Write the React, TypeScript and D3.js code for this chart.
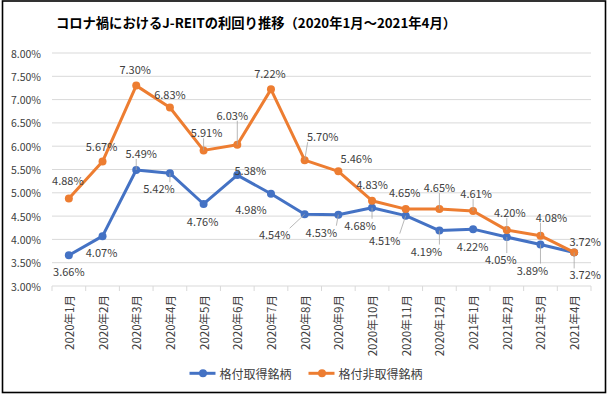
import React from "react";
import * as d3 from "d3";

const title = "コロナ禍におけるJ-REITの利回り推移（2020年1月～2021年4月）";
const categories = [
  "2020年1月", "2020年2月", "2020年3月", "2020年4月", "2020年5月", "2020年6月",
  "2020年7月", "2020年8月", "2020年9月", "2020年10月", "2020年11月", "2020年12月",
  "2021年1月", "2021年2月", "2021年3月", "2021年4月",
];
const seriesNames = ["格付取得銘柄", "格付非取得銘柄"];
const ratedValues = [3.66, 4.07, 5.49, 5.42, 4.76, 5.38, 4.98, 4.54, 4.53, 4.68, 4.51, 4.19, 4.22, 4.05, 3.89, 3.72];
const unratedValues = [4.88, 5.67, 7.30, 6.83, 5.91, 6.03, 7.22, 5.70, 5.46, 4.83, 4.65, 4.65, 4.61, 4.20, 4.08, 3.72];
const yTicks = [3, 3.5, 4, 4.5, 5, 5.5, 6, 6.5, 7, 7.5, 8];

// label placement (dx, dy from point, leader flag) - layout only
const ratedLabelOffsets: [number, number, boolean][] = [
  [0, 15.5, false], [-1, 15.5, false], [5, -17, true], [-11, 15, true],
  [-1, 17, false], [13, -5, false], [-20, 15, false], [-30, 20, true],
  [-17, 17, true], [-12, 17, true], [-21, 24, true], [-13, 20, true],
  [-0.5, 16.5, false], [-6, 22, true], [-8, 25, true], [11, 22, true],
];
const unratedLabelOffsets: [number, number, boolean][] = [
  [-1, -18, false], [-1, -16, false], [-1, -17, false], [0, -13.5, false],
  [3, -18, true], [-5, -30, true], [-1, -16, false], [18, -24, true],
  [18, -13, false], [0, -17, false], [-1, -17, false], [0, -22, true],
  [3, -18, true], [3, -18, true], [11, -19, true], [11, -11, false],
];

const colors = ["#4472C4", "#ED7D31"];
const FONT = "'Noto Sans CJK JP', 'Noto Sans', sans-serif";

export default function App() {
  const W = 608, H = 397;
  const x = d3.scaleBand<string>().domain(categories).range([52, 591]);
  const y = d3.scaleLinear().domain([3, 8]).range([286, 53]);
  const cx = (c: string) => (x(c) as number) + x.bandwidth() / 2;
  const line = d3.line<number>().x((_, i) => cx(categories[i])).y((d) => y(d));

  const series = [
    { name: seriesNames[0], values: ratedValues, offsets: ratedLabelOffsets, color: colors[0] },
    { name: seriesNames[1], values: unratedValues, offsets: unratedLabelOffsets, color: colors[1] },
  ];

  const labelW = 15, labelH = 6;

  return (
    <svg width={W} height={H} style={{ position: "absolute", left: 0, top: 0, background: "#fff" }} fontFamily={FONT}>
      <rect x={0} y={0} width={W} height={H} fill="#fff" />
      <rect x={2.5} y={1} width={603} height={391.5} fill="none" stroke="#000" strokeWidth={1.6} />
      <text x={256} y={22} textAnchor="middle" dominantBaseline="central" fontSize={13.3} fontWeight="bold" fill="#000">{title}</text>
      {yTicks.map((t) => (
        <g key={t}>
          <line x1={52} x2={591} y1={y(t)} y2={y(t)} stroke="#D9D9D9" strokeWidth={1} />
          <text x={41} y={y(t)} textAnchor="end" dominantBaseline="central" fontSize={10.5} fill="#404040">{t.toFixed(2)}%</text>
        </g>
      ))}
      {categories.map((c, i) => (
        <line key={"tk" + i} x1={x(c) as number} x2={x(c) as number} y1={286} y2={291} stroke="#D9D9D9" />
      ))}
      <line x1={591} x2={591} y1={286} y2={291} stroke="#D9D9D9" />
      {categories.map((c) => (
        <text key={c} transform={`translate(${cx(c)},295) rotate(-90)`} textAnchor="end" dominantBaseline="central" fontSize={11.5} fill="#404040">{c}</text>
      ))}
      {series.map((s) => (
        <g key={s.name}>
          <path d={line(s.values) as string} fill="none" stroke={s.color} strokeWidth={3} strokeLinejoin="round" />
          {s.values.map((v, i) => (
            <circle key={i} cx={cx(categories[i])} cy={y(v)} r={4} fill={s.color} />
          ))}
        </g>
      ))}
      {series.map((s) =>
        s.values.map((v, i) => {
          const px = cx(categories[i]);
          const py = y(v);
          const [dx, dy, leader] = s.offsets[i];
          const lx = px + dx, ly = py + dy;
          const ex = Math.max(lx - labelW, Math.min(lx + labelW, px));
          const ey = Math.max(ly - labelH, Math.min(ly + labelH, py));
          return (
            <g key={s.name + i}>
              {leader && <line x1={px} y1={py} x2={ex} y2={ey} stroke="#A6A6A6" strokeWidth={0.8} />}
              <text x={lx} y={ly} textAnchor="middle" dominantBaseline="central" fontSize={11} fill="#404040">{v.toFixed(2)}%</text>
            </g>
          );
        })
      )}
      {series.map((s, k) => {
        const lx0 = k === 0 ? 189.5 : 308.5;
        return (
          <g key={"lg" + k}>
            <line x1={lx0} x2={lx0 + 26} y1={373.3} y2={373.3} stroke={s.color} strokeWidth={3} />
            <circle cx={lx0 + 13.5} cy={373.3} r={4} fill={s.color} />
            <text x={lx0 + 30} y={373.3} dominantBaseline="central" fontSize={12} fill="#404040">{s.name}</text>
          </g>
        );
      })}
    </svg>
  );
}
